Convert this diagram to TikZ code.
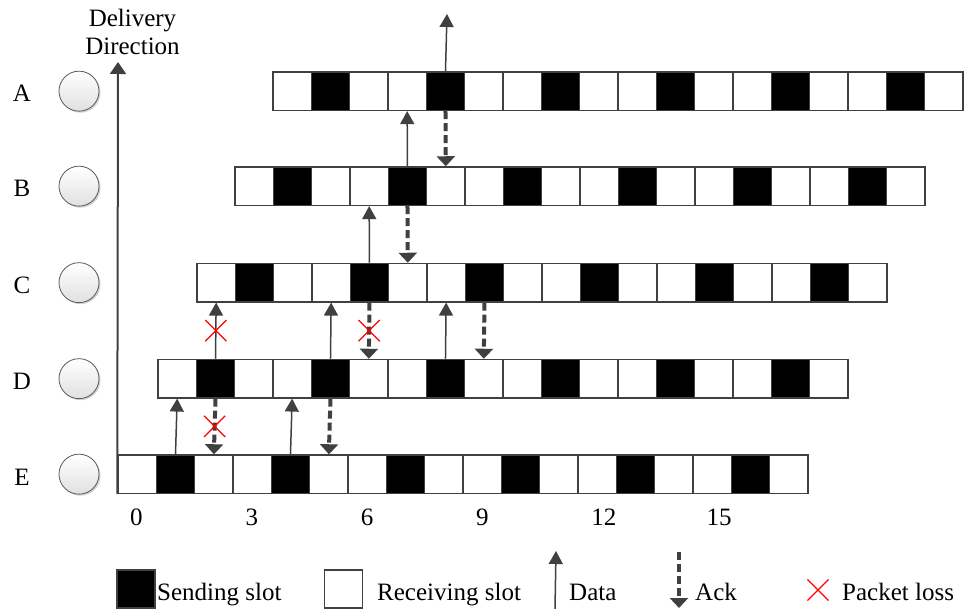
\documentclass[tikz,border=0pt]{standalone}
\usepackage{fontspec}
\setmainfont{Liberation Serif}
\usetikzlibrary{arrows.meta,shapes.misc,shadows,calc}
\definecolor{dk}{HTML}{404040}
\begin{document}
\begin{tikzpicture}[x=1pt,y=-1pt,
  lbl/.style={font=\fontsize{25}{30}\selectfont, inner sep=0pt},
  slot/.style={rectangle, draw=dk, line width=1.5pt, minimum width=38.33pt, minimum height=38.33pt, inner sep=0pt, fill=white},
  nodecirc/.style={circle, draw=black!65, line width=0.8pt, minimum size=40pt, inner sep=0pt,
    top color=white, bottom color=black!12,
    drop shadow={shadow xshift=1.5pt, shadow yshift=-1.5pt, fill=black!30, opacity=0.6}},
  data/.style={draw=dk, line width=1.5pt, -{Triangle[length=13pt,width=14pt]}},
  ack/.style={draw=dk, line width=4pt, dash pattern=on 8pt off 4pt, -{Triangle[length=10pt,width=18pt]}},
  loss/.style={cross out, draw=red, line width=1.2pt, minimum size=20pt, inner sep=0pt},
  axis/.style={draw=dk, line width=2pt, -{Triangle[length=12pt,width=16pt]}}]
\useasboundingbox (0,0) rectangle (964,609);

% rows of slots, node circles and labels
\foreach \r/\xo/\yo in {A/273/72, B/235/167, C/197/263.5, D/158/359.5, E/118/455} {
  \foreach \i in {0,...,17} {
    \pgfmathtruncatemacro{\m}{mod(\i,3)}
    \ifnum\m=1 \def\fc{black}\else\def\fc{white}\fi
    \node[slot, fill=\fc] (\r-\i) at ({\xo+38.33*\i+19.165}, {\yo+19.165}) {};
  }
  \node[nodecirc] (c\r) at (79, {\yo+19.165}) {};
  \node[lbl, anchor=base] (l\r) at (22, {\yo+30}) {\r};
}

% delivery direction axis
\coordinate (axt) at (118, 62);
\draw[axis] (E-0.south west) -- (axt);
\node[lbl, anchor=base] (dd1) at (132.5, 26.7) {Delivery};
\node[lbl, anchor=base] (dd2) at (132.5, 55) {Direction};

% time ticks
\foreach \k/\n in {0/0,1/3,2/6,3/9,4/12,5/15}
  \node[lbl, anchor=base west] (t\n) at ({130+115.3*\k}, 525) {\n};

% data arrows
\draw[data] (E-1.north) -- (D-0.south);
\draw[data] (E-4.north) -- (D-3.south);
\draw[data] (D-1.north) -- (C-0.south);
\draw[data] (D-4.north) -- (C-3.south);
\draw[data] (D-7.north) -- (C-6.south);
\draw[data] (C-4.north) -- (B-3.south);
\draw[data] (B-4.north) -- (A-3.south);
\coordinate (topend) at (447, 14);
\draw[data] (A-4.north) -- (topend);

% ack arrows
\draw[ack] (A-4.south) -- (B-5.north);
\draw[ack] (B-4.south) -- (C-5.north);
\draw[ack] (C-4.south) -- (D-5.north);
\draw[ack] (C-7.south) -- (D-8.north);
\draw[ack] (D-1.south) -- (E-2.north);
\draw[ack] (D-4.south) -- (E-5.north);

% packet losses
\node[loss] (x1) at ($(D-1.north)!0.5!(C-0.south)$) {};
\node[loss] (x2) at ($(C-4.south)!0.5!(D-5.north)$) {};
\node[loss] (x3) at ($(D-1.south)!0.5!(E-2.north)$) {};

% legend
\node[slot, fill=black] (lg1) at (136, 589) {};
\node[lbl, anchor=base west] (lt1) at (157, 600) {Sending slot};
\node[slot] (lg2) at (343.5, 589) {};
\node[lbl, anchor=base west] (lt2) at (377, 600) {Receiving slot};
\coordinate (lda) at (555, 609);
\coordinate (ldb) at (556, 551);
\draw[data] (lda) -- (ldb);
\node[lbl, anchor=base west] (lt3) at (569, 600) {Data};
\coordinate (laa) at (679, 552);
\coordinate (lab) at (679, 608);
\draw[ack] (laa) -- (lab);
\node[lbl, anchor=base west] (lt4) at (695, 600) {Ack};
\node[loss] (lg5) at (818, 590) {};
\node[lbl, anchor=base west] (lt5) at (842, 600) {Packet loss};
\end{tikzpicture}
\end{document}
